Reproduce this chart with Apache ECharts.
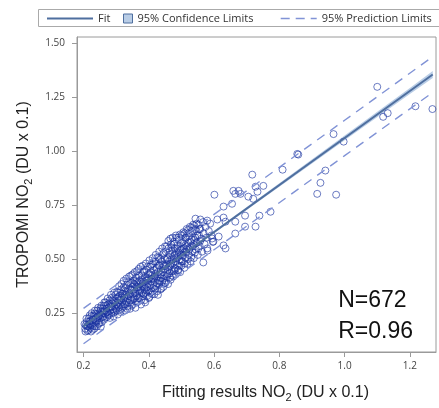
<!DOCTYPE html>
<html>
<head>
<meta charset="utf-8">
<script src="https://cdn.jsdelivr.net/npm/echarts@6/dist/echarts.min.js"></script>
<style>html,body{margin:0;padding:0;background:#fff}#c{width:439px;height:408px}</style>
</head>
<body>
<div id="c"></div>
<script>
// ---- data ----
const xTicks = [0.2, 0.4, 0.6, 0.8, 1.0, 1.2];
const yTicks = [0.25, 0.5, 0.75, 1.0, 1.25, 1.5];

// dense cloud of observations (first pass)
const cloudPoints = [
[0.205,0.178],[0.207,0.195],[0.21,0.21],[0.212,0.168],[0.214,0.188],[0.216,0.226],[0.218,0.201],[0.22,0.182],[0.222,0.215],[0.224,0.236],[0.226,0.197],[0.228,0.173],[0.23,0.222],
[0.232,0.205],[0.234,0.248],[0.236,0.19],[0.238,0.228],[0.24,0.214],[0.242,0.262],[0.244,0.236],[0.246,0.2],[0.248,0.25],[0.25,0.225],[0.252,0.272],[0.254,0.242],[0.256,0.208],[0.258,0.258],[0.26,0.233],
[0.262,0.285],[0.263,0.22],[0.265,0.262],[0.267,0.246],[0.268,0.3],[0.27,0.272],[0.272,0.232],[0.273,0.257],[0.275,0.29],[0.277,0.275],[0.278,0.24],[0.28,0.31],[0.282,0.265],[0.283,0.283],[0.285,0.25],[0.287,0.322],[0.288,0.296],[0.29,0.268],[0.292,0.235],[0.293,0.305],[0.295,0.28],[0.297,0.258],[0.298,0.335],[0.3,0.29],
[0.301,0.262],[0.302,0.318],[0.304,0.3],[0.305,0.244],[0.306,0.345],[0.308,0.278],[0.309,0.31],[0.31,0.33],[0.312,0.29],[0.313,0.256],[0.315,0.36],[0.316,0.322],[0.317,0.3],[0.319,0.275],[0.32,0.34],[0.322,0.312],[0.323,0.37],[0.325,0.29],[0.326,0.328],[0.327,0.262],[0.329,0.352],[0.33,0.305],[0.332,0.335],[0.333,0.382],[0.335,0.282],[0.336,0.318],[0.338,0.36],[0.339,0.298],[0.341,0.342],[0.342,0.27],[0.344,0.39],[0.345,0.325],[0.347,0.355],[0.348,0.31],[0.35,0.372],
[0.351,0.292],[0.352,0.34],[0.354,0.402],[0.355,0.36],[0.356,0.318],[0.358,0.38],[0.359,0.275],[0.36,0.35],[0.362,0.415],[0.363,0.33],[0.364,0.37],[0.366,0.302],[0.367,0.392],[0.368,0.355],[0.37,0.425],[0.371,0.34],[0.372,0.318],[0.374,0.385],[0.375,0.36],[0.376,0.29],[0.378,0.405],[0.379,0.345],[0.38,0.375],[0.382,0.44],[0.383,0.328],[0.384,0.395],[0.386,0.362],[0.387,0.31],[0.388,0.418],[0.39,0.38],[0.391,0.345],[0.392,0.452],[0.394,0.4],[0.395,0.33],[0.396,0.37],[0.398,0.43],[0.399,0.39],[0.4,0.355],
[0.401,0.412],[0.402,0.325],[0.404,0.465],[0.405,0.38],[0.406,0.44],[0.408,0.398],[0.409,0.35],[0.41,0.425],[0.412,0.478],[0.413,0.365],[0.414,0.41],[0.416,0.45],[0.417,0.338],[0.418,0.395],[0.42,0.432],[0.421,0.49],[0.422,0.375],[0.424,0.418],[0.425,0.46],[0.426,0.352],[0.428,0.44],[0.429,0.4],[0.43,0.505],[0.432,0.385],[0.433,0.472],[0.434,0.428],[0.436,0.36],[0.437,0.45],[0.438,0.412],[0.44,0.49],[0.441,0.395],[0.442,0.52],[0.444,0.44],[0.445,0.372],[0.446,0.468],[0.448,0.425],[0.449,0.5],[0.45,0.455],
[0.451,0.39],[0.452,0.535],[0.454,0.478],[0.455,0.42],[0.456,0.505],[0.458,0.452],[0.459,0.385],[0.46,0.55],[0.462,0.49],[0.463,0.435],[0.464,0.52],[0.466,0.468],[0.467,0.405],[0.468,0.568],[0.47,0.5],[0.471,0.445],[0.472,0.535],[0.474,0.482],[0.475,0.42],[0.476,0.58],[0.478,0.515],[0.479,0.46],[0.48,0.55],[0.482,0.49],[0.483,0.43],[0.484,0.6],[0.486,0.528],[0.487,0.475],[0.488,0.565],[0.49,0.51],[0.491,0.45],[0.492,0.59],[0.494,0.54],[0.495,0.495],[0.496,0.44],[0.498,0.575],[0.499,0.52],[0.5,0.47],
[0.501,0.61],[0.503,0.548],[0.504,0.49],[0.506,0.585],[0.507,0.53],[0.509,0.46],[0.51,0.62],[0.512,0.565],[0.513,0.505],[0.515,0.6],[0.516,0.545],[0.518,0.478],[0.52,0.635],[0.521,0.578],[0.523,0.52],[0.525,0.608],[0.526,0.555],[0.528,0.49],[0.53,0.645],[0.531,0.59],[0.533,0.535],[0.535,0.622],[0.537,0.57],[0.538,0.505],[0.54,0.655],[0.542,0.6],[0.544,0.545],[0.546,0.63],[0.548,0.578],[0.55,0.52],
[0.552,0.66],[0.554,0.61],[0.556,0.56],[0.558,0.64],[0.561,0.595],[0.563,0.535],[0.566,0.672],[0.568,0.62],[0.571,0.57],[0.574,0.65],[0.577,0.6],[0.58,0.54],[0.584,0.63],[0.588,0.665],[0.592,0.61],[0.596,0.58]
];

// dense cloud of observations (second pass, filling the band)
const cloudFill = [
[0.203,0.2],[0.206,0.165],[0.209,0.225],[0.211,0.19],[0.215,0.172],[0.217,0.21],[0.219,0.24],[0.221,0.195],[0.223,0.165],[0.225,0.25],[0.227,0.218],[0.229,0.19],[0.231,0.238],[0.233,0.178],[0.235,0.262],[0.237,0.212],[0.239,0.245],[0.241,0.188],[0.243,0.225],[0.245,0.275],[0.247,0.238],[0.249,0.205],[0.251,0.26],[0.253,0.188],[0.255,0.285],[0.257,0.232],[0.259,0.272],
[0.261,0.25],[0.264,0.3],[0.266,0.228],[0.269,0.285],[0.271,0.255],[0.274,0.318],[0.276,0.245],[0.279,0.295],[0.281,0.228],[0.284,0.335],[0.286,0.278],[0.289,0.31],[0.291,0.252],[0.294,0.345],[0.296,0.3],[0.299,0.27],
[0.303,0.35],[0.305,0.285],[0.307,0.325],[0.309,0.375],[0.311,0.265],[0.314,0.31],[0.316,0.385],[0.318,0.34],[0.321,0.282],[0.323,0.4],[0.324,0.32],[0.327,0.365],[0.328,0.292],[0.331,0.41],[0.332,0.348],[0.334,0.27],[0.337,0.395],[0.338,0.33],[0.34,0.42],[0.343,0.308],[0.344,0.36],[0.346,0.425],[0.348,0.285],[0.349,0.39],
[0.351,0.43],[0.353,0.315],[0.355,0.385],[0.357,0.44],[0.358,0.342],[0.361,0.395],[0.362,0.3],[0.364,0.445],[0.366,0.372],[0.368,0.32],[0.369,0.455],[0.371,0.4],[0.373,0.352],[0.375,0.465],[0.377,0.312],[0.378,0.425],[0.381,0.385],[0.382,0.47],[0.384,0.34],[0.386,0.445],[0.388,0.368],[0.389,0.3],[0.391,0.48],[0.393,0.412],[0.394,0.355],[0.397,0.465],[0.398,0.405],[0.4,0.32],
[0.402,0.495],[0.403,0.43],[0.405,0.345],[0.407,0.475],[0.409,0.41],[0.411,0.338],[0.412,0.505],[0.414,0.385],[0.416,0.49],[0.418,0.42],[0.419,0.36],[0.421,0.52],[0.423,0.455],[0.425,0.39],[0.427,0.51],[0.428,0.335],[0.43,0.47],[0.432,0.535],[0.434,0.4],[0.435,0.5],[0.437,0.43],[0.439,0.365],[0.441,0.55],[0.443,0.475],[0.444,0.41],[0.446,0.53],[0.448,0.39],[0.45,0.56],
[0.452,0.47],[0.453,0.4],[0.455,0.56],[0.457,0.5],[0.458,0.432],[0.46,0.585],[0.461,0.465],[0.463,0.54],[0.465,0.415],[0.466,0.595],[0.468,0.48],[0.47,0.555],[0.471,0.425],[0.473,0.6],[0.475,0.5],[0.477,0.445],[0.478,0.57],[0.48,0.52],[0.482,0.455],[0.483,0.61],[0.485,0.505],[0.487,0.55],[0.489,0.45],[0.49,0.6],[0.492,0.53],[0.494,0.47],[0.496,0.615],[0.498,0.545],[0.5,0.49],
[0.502,0.58],[0.504,0.515],[0.506,0.625],[0.508,0.55],[0.51,0.48],[0.512,0.6],[0.514,0.535],[0.516,0.64],[0.518,0.56],[0.52,0.5],[0.522,0.62],[0.524,0.545],[0.526,0.65],[0.528,0.58],[0.53,0.51],[0.532,0.63],[0.534,0.56],[0.536,0.66],[0.539,0.59],[0.541,0.53],[0.543,0.64],[0.545,0.575],[0.547,0.665],[0.549,0.61],[0.552,0.55],[0.555,0.64],[0.558,0.585]
];

// sparse observations away from the cloud
const outlierPoints = [
[1.100,1.299],[0.966,1.080],[0.997,1.045],[0.855,0.988],[0.858,0.985],[0.810,0.915],[0.717,0.892],[0.941,0.911],[0.926,0.854],[0.916,0.803],[0.974,0.799],[0.751,0.840],[0.727,0.836],[0.733,0.813],[0.659,0.817],[0.675,0.817],[0.665,0.803],[0.681,0.803],[0.705,0.790],[0.720,0.780],[0.655,0.757],[0.629,0.744],[0.695,0.702],[0.739,0.702],[0.773,0.720],[0.665,0.674],[0.695,0.651],[0.727,0.651],[0.665,0.619],[1.118,1.160],[1.132,1.177],[1.217,1.209],[1.269,1.196],[0.567,0.485],[0.543,0.688],[0.558,0.684],[0.579,0.679],[0.610,0.684],[0.629,0.693],[0.635,0.674],[0.601,0.799],[0.614,0.605],[0.594,0.596],[0.629,0.564],[0.635,0.55],[0.598,0.582],[0.579,0.55]
];

// regression fit line
const fitX = [0.20, 1.27];
const fitY = [0.190, 1.356];

// 95% confidence band
const confX  = [0.20, 0.30, 0.40, 0.50, 0.60, 0.80, 1.00, 1.20, 1.27];
const confLo = [0.184, 0.294, 0.404, 0.513, 0.621, 0.836, 1.051, 1.266, 1.340];
const confHi = [0.196, 0.304, 0.412, 0.521, 0.631, 0.852, 1.073, 1.294, 1.372];

// 95% prediction limits
const predX  = [0.20, 0.60, 1.00, 1.27];
const predLo = [0.108, 0.544, 0.980, 1.273];
const predHi = [0.272, 0.708, 1.144, 1.439];

const statText = ['N=672', 'R=0.96'];

// ---- chart ----
const FIT_COLOR = '#4f6f9f';
const PRED_COLOR = '#8193d6';
const BAND_COLOR = '#b9cde6';
const MARK_COLOR = 'rgba(25,50,160,0.8)';

const zip = (xs, ys) => xs.map((x, i) => [x, ys[i]]);

const nameRich = {
  t: { fontFamily: 'Liberation Sans, Arial', fontSize: 16, color: '#222', lineHeight: 21, verticalAlign: 'middle' },
  s: { fontFamily: 'Liberation Sans, Arial', fontSize: 11, color: '#222', lineHeight: 21, verticalAlign: 'bottom' }
};
const legendText = { fontSize: 11, fontFamily: 'Open Sans', color: '#333' };

const chart = echarts.init(document.getElementById('c'), null, { renderer: 'canvas' });
chart.setOption({
  animation: false,
  backgroundColor: '#fff',
  grid: { left: 77, right: 3, top: 37, bottom: 54, show: true, borderColor: '#9a9a9a', borderWidth: 1, backgroundColor: 'transparent' },
  xAxis: {
    type: 'value', min: 0.18, max: 1.28,
    splitLine: { show: false },
    axisLine: { show: true, lineStyle: { color: '#9a9a9a' } },
    axisTick: { show: true, length: 5, customValues: xTicks, lineStyle: { color: '#9a9a9a' } },
    axisLabel: { customValues: xTicks, formatter: v => v.toFixed(1), margin: 9, fontSize: 10, fontFamily: 'Open Sans', color: '#444' },
    name: '{t|Fitting results NO}{s|2}{t| (DU x 0.1)}',
    nameLocation: 'middle', nameGap: 30,
    nameTextStyle: { rich: nameRich, padding: [0, 0, 0, 18] }
  },
  yAxis: {
    type: 'value', min: 0.07, max: 1.53,
    splitLine: { show: false },
    axisLine: { show: true, lineStyle: { color: '#9a9a9a' } },
    axisTick: { show: true, length: 5, customValues: yTicks, lineStyle: { color: '#9a9a9a' } },
    axisLabel: { customValues: yTicks, formatter: v => v.toFixed(2), margin: 12, fontSize: 10, fontFamily: 'Open Sans', color: '#444' },
    name: '{t|TROPOMI NO}{s|2}{t| (DU x 0.1)}',
    nameLocation: 'middle', nameGap: 42, nameRotate: 90,
    nameTextStyle: { rich: nameRich }
  },
  legend: [
    { data: ['Fit'], left: 41, top: 8, itemWidth: 46, itemHeight: 12, selectedMode: false,
      itemStyle: { color: 'rgba(0,0,0,0)', borderWidth: 0, opacity: 0 },
      lineStyle: { color: FIT_COLOR, width: 2 },
      textStyle: legendText },
    { data: [{ name: '95% Confidence Limits', icon: 'rect' }], left: 118, top: 8, itemWidth: 9, itemHeight: 9, selectedMode: false,
      itemStyle: { color: BAND_COLOR, borderColor: FIT_COLOR, borderWidth: 1 },
      textStyle: legendText },
    { data: ['95% Prediction Limits'], left: 275, top: 8, itemWidth: 36, itemHeight: 12, selectedMode: false,
      itemStyle: { color: 'rgba(0,0,0,0)', borderWidth: 0, opacity: 0 },
      lineStyle: { color: PRED_COLOR, width: 1.4, type: [9, 6] },
      textStyle: legendText }
  ],
  graphic: [
    { type: 'rect', left: 36, top: 7, z: -1, shape: { width: 401, height: 17 }, style: { fill: 'none', stroke: '#aaaaaa', lineWidth: 1 } },
    { type: 'text', right: 26, top: 285, z: 10,
      style: { text: statText.join('\n'), font: '23px "Liberation Sans", Arial', fill: '#111', align: 'right', lineHeight: 31 } }
  ],
  series: [
    {
      name: '95% Confidence Limits', type: 'custom', z: 1,
      data: [[confX[0], confLo[0]]],
      itemStyle: { color: BAND_COLOR },
      renderItem: function (params, api) {
        const pts = [];
        for (let i = 0; i < confX.length; i++) pts.push(api.coord([confX[i], confHi[i]]));
        for (let i = confX.length - 1; i >= 0; i--) pts.push(api.coord([confX[i], confLo[i]]));
        return { type: 'polygon', shape: { points: pts }, style: { fill: BAND_COLOR, stroke: null } };
      },
      silent: true
    },
    {
      name: 'Observations', type: 'scatter', z: 2,
      data: cloudPoints.concat(cloudFill, outlierPoints),
      symbol: 'circle', symbolSize: 7,
      itemStyle: { color: 'transparent', borderColor: MARK_COLOR, borderWidth: 1 }
    },
    {
      name: 'Fit', type: 'line', z: 4, data: zip(fitX, fitY),
      symbol: 'none', lineStyle: { color: FIT_COLOR, width: 2 }, itemStyle: { color: FIT_COLOR }
    },
    {
      name: '95% Prediction Limits', type: 'line', z: 3, data: zip(predX, predHi),
      symbol: 'none', lineStyle: { color: PRED_COLOR, width: 1.4, type: [9, 7] }, itemStyle: { color: PRED_COLOR }
    },
    {
      name: '95% Prediction Limits', type: 'line', z: 3, data: zip(predX, predLo),
      symbol: 'none', lineStyle: { color: PRED_COLOR, width: 1.4, type: [9, 7] }, itemStyle: { color: PRED_COLOR }
    }
  ]
});
</script>
</body>
</html>
